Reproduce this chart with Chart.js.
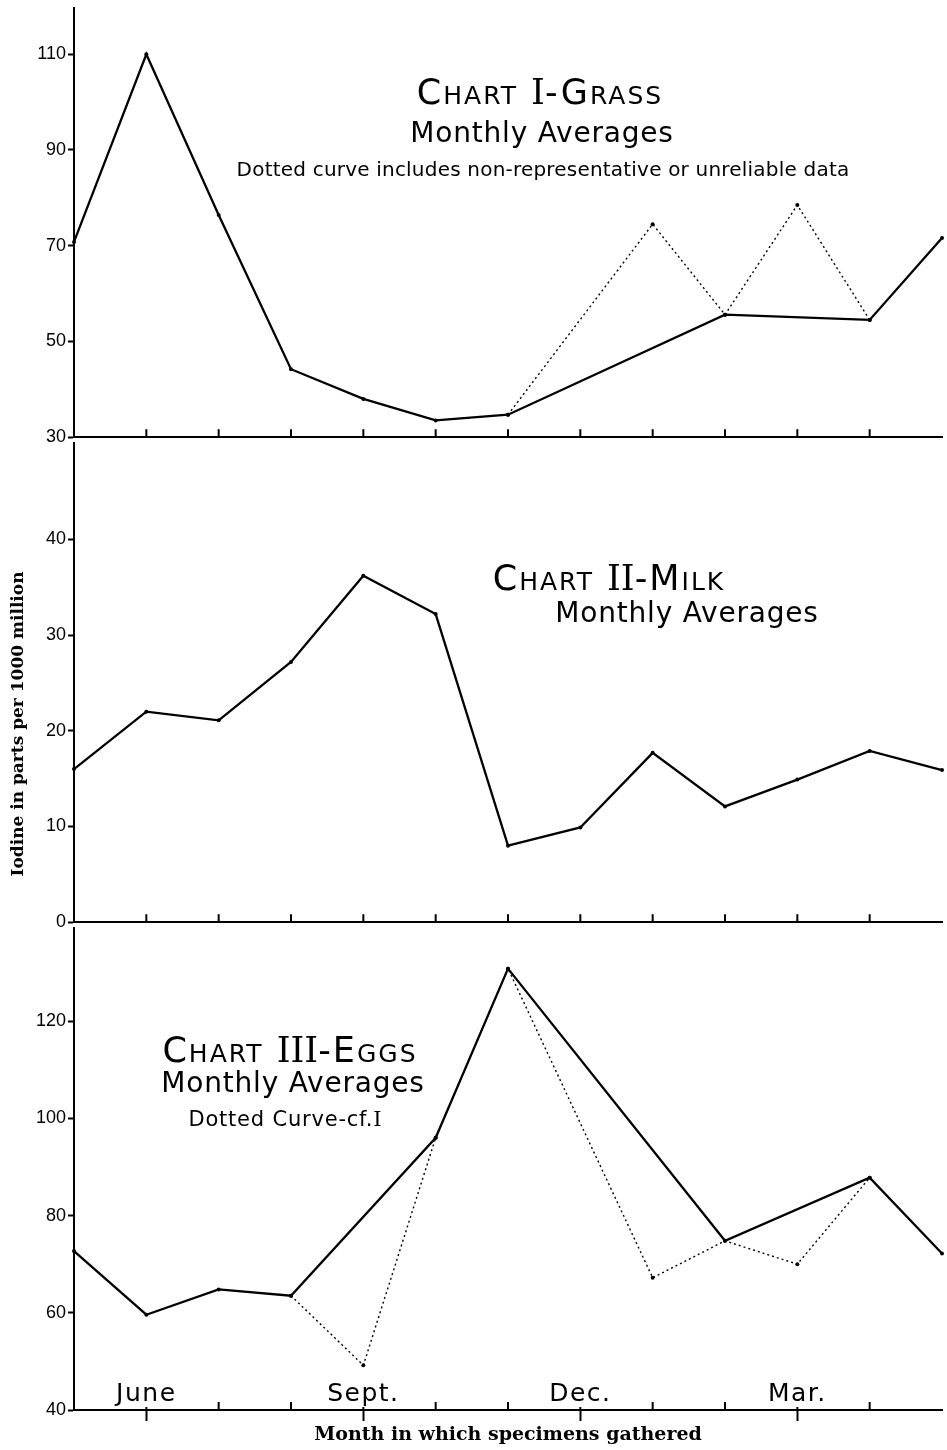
<!DOCTYPE html>
<html>
<head>
<meta charset="utf-8">
<script src="https://cdn.jsdelivr.net/npm/chart.js@4.4.1/dist/chart.umd.min.js"></script>
<style>
  body { margin: 0; background: #fff; width: 947px; height: 1450px; position: relative; overflow: hidden; }
  canvas { position: absolute; left: 0; }
  .note { position: absolute; font-family: "DejaVu Sans"; color: #000; white-space: nowrap; line-height: 1; text-align: center; }
  .head { font-variant: small-caps; font-size: 35px; letter-spacing: 2px; }
  .sub { font-size: 28px; letter-spacing: 0.8px; }
  .rn { font-family: "DejaVu Serif"; font-variant: normal; letter-spacing: 0; }
  #ytitle { position: absolute; width: 400px; left: -183px; top: 714px; text-align: center;
            font-family: "DejaVu Serif"; font-weight: bold; font-size: 17px; line-height: 20px;
            transform: rotate(-90deg); white-space: nowrap; }
</style>
</head>
<body>
<canvas id="grass" width="947" height="455" style="top:-5px"></canvas>
<canvas id="milk" width="947" height="505" style="top:430px"></canvas>
<canvas id="eggs" width="947" height="535" style="top:915px"></canvas>

<div class="note head" style="left:340px;width:400px;top:75px">Chart <span class="rn">I</span>-Grass</div>
<div class="note sub" style="left:342px;width:400px;top:119px">Monthly Averages</div>
<div class="note" style="left:193px;width:700px;top:159px;font-size:20px;letter-spacing:0.2px">Dotted curve includes non-representative or unreliable data</div>

<div class="note head" style="left:409px;width:400px;top:561px">Chart <span class="rn">II</span>-Milk</div>
<div class="note sub" style="left:487px;width:400px;top:599px">Monthly Averages</div>

<div class="note head" style="left:90px;width:400px;top:1033px">Chart <span class="rn">III</span>-Eggs</div>
<div class="note sub" style="left:93px;width:400px;top:1069px">Monthly Averages</div>
<div class="note" style="left:135px;width:300px;top:1109px;font-size:21px;letter-spacing:0.8px">Dotted Curve-cf.<span class="rn">I</span></div>

<div id="ytitle">Iodine in parts per 1000 million</div>

<script>
// month index 0 = May ... 12 = following May
var MONTH_TICKS = [1, 2, 3, 4, 5, 6, 7, 8, 9, 10, 11];
var LABEL_MONTHS = [1, 4, 7, 10];
var LABEL_TEXT = ["June", "Sept.", "Dec.", "Mar."];

var GRASS_SOLID  = [70.8, 110, 76.4, 44.2, 38.0, 33.5, 34.7, null, null, 55.6, null, 54.5, 71.6];
var GRASS_DOTTED = [null, null, null, null, null, null, 34.7, null, 74.5, 55.6, 78.5, 54.5, null];
var MILK         = [16.0, 22.0, 21.1, 27.2, 36.2, 32.2, 8.0, 9.9, 17.7, 12.1, 14.9, 17.9, 15.9];
var EGGS_SOLID   = [72.7, 59.6, 64.8, 63.5, null, 96.0, 130.8, null, null, 74.8, null, 87.8, 72.2];
var EGGS_DOTTED  = [null, null, null, 63.5, 49.2, 96.0, 130.8, null, 67.2, 74.8, 70.0, 87.8, null];

var GRASS_TICKS = [30, 50, 70, 90, 110];
var MILK_TICKS  = [0, 10, 20, 30, 40];
var EGGS_TICKS  = [40, 60, 80, 100, 120];

function pts(arr) {
  return arr.map(function (y, i) { return { x: i, y: y }; });
}

function solid(arr) {
  return { data: pts(arr), borderColor: "#000", borderWidth: 2.3, pointRadius: 2,
           pointBackgroundColor: "#000", pointBorderWidth: 0, spanGaps: true, clip: false };
}
function dotted(arr) {
  return { data: pts(arr), borderColor: "#000", borderWidth: 1.4, borderDash: [2, 3],
           pointRadius: 2, pointBackgroundColor: "#000", pointBorderWidth: 0, spanGaps: true, clip: false };
}

// short ticks pointing up into each panel, plus the month names of the last panel
var panelMarks = {
  id: "panelMarks",
  afterDraw: function (chart, args, opts) {
    var ctx = chart.ctx, area = chart.chartArea, xs = chart.scales.x;
    ctx.save();
    ctx.strokeStyle = "#000";
    ctx.lineWidth = 2;
    MONTH_TICKS.forEach(function (m) {
      var major = opts.labels && LABEL_MONTHS.indexOf(m) >= 0;
      var px = xs.getPixelForValue(m);
      ctx.beginPath();
      ctx.moveTo(px, area.bottom);
      ctx.lineTo(px, area.bottom - (major ? 3 : 8));
      ctx.stroke();
    });
    if (opts.labels) {
      ctx.fillStyle = "#000";
      ctx.font = "25px 'DejaVu Sans'";
      ctx.letterSpacing = "1.5px";
      ctx.textAlign = "center";
      ctx.textBaseline = "alphabetic";
      LABEL_MONTHS.forEach(function (m, i) {
        ctx.fillText(LABEL_TEXT[i], xs.getPixelForValue(m), area.bottom - 9);
      });
    }
    ctx.restore();
  }
};

function makePanel(id, datasets, yMin, yMax, yTicks, last) {
  return new Chart(document.getElementById(id), {
    type: "line",
    data: { datasets: datasets },
    plugins: [panelMarks],
    options: {
      responsive: false,
      animation: false,
      events: [],
      layout: { padding: { top: 10, bottom: last ? 4 : 10, left: 0, right: 5 } },
      plugins: {
        legend: { display: false },
        tooltip: { enabled: false },
        panelMarks: { labels: last }
      },
      scales: {
        x: {
          type: "linear", min: 0, max: 12,
          afterBuildTicks: function (s) { s.ticks = MONTH_TICKS.map(function (v) { return { value: v }; }); },
          afterFit: function (s) { s.height = last ? 36 : 0; },
          ticks: { display: false },
          grid: {
            drawOnChartArea: false,
            tickLength: last ? 11 : 0,
            tickWidth: 2,
            tickColor: function (c) {
              return c.tick && LABEL_MONTHS.indexOf(c.tick.value) >= 0 ? "#000" : "rgba(0,0,0,0)";
            }
          },
          border: { color: "#000", width: 2 },
          title: {
            display: last,
            text: "Month in which specimens gathered",
            color: "#000",
            font: { family: "DejaVu Serif", weight: "bold", size: 19 },
            padding: { top: 0, bottom: 0 }
          }
        },
        y: {
          min: yMin, max: yMax,
          afterBuildTicks: function (s) { s.ticks = yTicks.map(function (v) { return { value: v }; }); },
          afterFit: function (s) { s.width = 74; },
          ticks: { color: "#000", padding: 2, font: { family: "Liberation Sans", size: 18 } },
          grid: { drawOnChartArea: false, tickLength: 6, tickWidth: 2, tickColor: "#000" },
          border: { color: "#000", width: 2 }
        }
      }
    }
  });
}

makePanel("grass", [solid(GRASS_SOLID), dotted(GRASS_DOTTED)], 30, 119.7, GRASS_TICKS, false);
makePanel("milk", [solid(MILK)], 0, 50.1, MILK_TICKS, false);
makePanel("eggs", [solid(EGGS_SOLID), dotted(EGGS_DOTTED)], 40, 139.2, EGGS_TICKS, true);
</script>
</body>
</html>
